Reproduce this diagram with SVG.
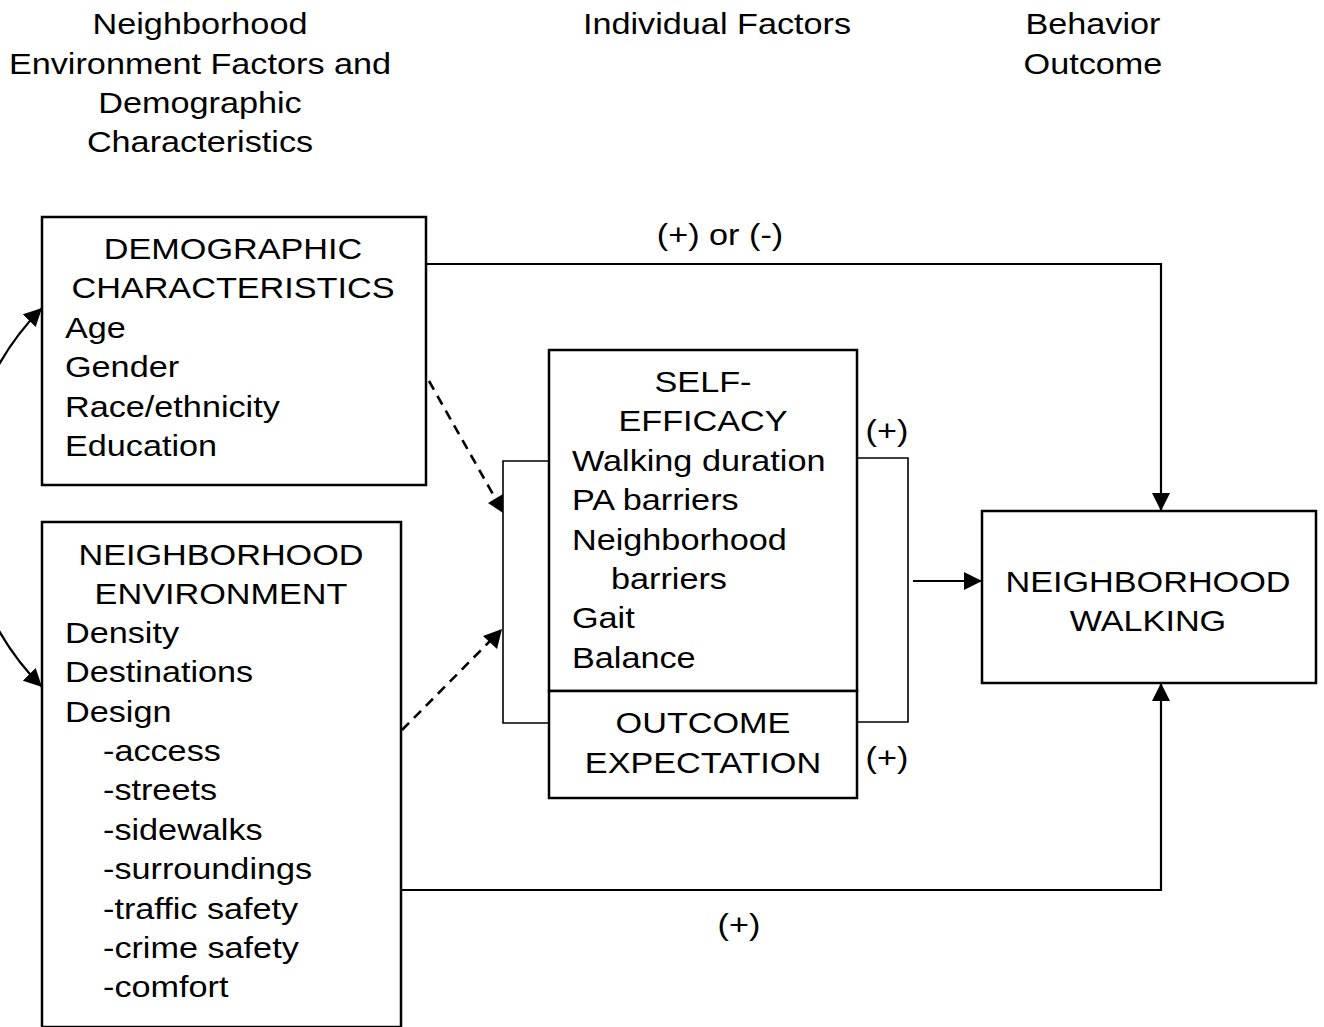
<svg xmlns="http://www.w3.org/2000/svg" width="1324" height="1027" viewBox="0 0 1324 1027">
<style>
text{font-family:"Liberation Sans",Arial,sans-serif;font-size:29px;fill:#000;transform-box:fill-box;transform-origin:left center;transform:scaleX(1.18)}
text.c{text-anchor:middle;transform-origin:center center}
.box{fill:#fff;stroke:#000;stroke-width:2.5}
.ln{fill:none;stroke:#000;stroke-width:2.2}
.thin{fill:none;stroke:#000;stroke-width:1.6}
.dash{fill:none;stroke:#000;stroke-width:2.6;stroke-dasharray:10 7}
</style>
<defs>
<marker id="ah2" viewBox="0 0 10 10" refX="10" refY="5" markerWidth="18" markerHeight="18" markerUnits="userSpaceOnUse" orient="auto-start-reverse">
<path d="M0,0 L10,5 L0,10 z" fill="#000"/>
</marker>
</defs>
<g id="headers">
<text class="c" x="200" y="34">Neighborhood</text>
<text class="c" x="200" y="74">Environment Factors and</text>
<text class="c" x="200" y="113">Demographic</text>
<text class="c" x="200" y="152">Characteristics</text>
<text class="c" x="717" y="34">Individual Factors</text>
<text class="c" x="1093" y="34">Behavior</text>
<text class="c" x="1093" y="74">Outcome</text>
</g>
<g id="connectors">
<path class="ln" d="M42,308 A268,268 0 0 0 42,687" marker-start="url(#ah2)" marker-end="url(#ah2)"/>
<polyline class="ln" points="426,264 1161,264 1161,511" marker-end="url(#ah2)"/>
<polyline class="ln" points="401,890 1161,890 1161,683" marker-end="url(#ah2)"/>
<line class="ln" x1="913" y1="581" x2="982" y2="581" marker-end="url(#ah2)"/>
<polyline class="thin" points="555,461 503,461 503,723 555,723"/>
<polyline class="thin" points="857,458 908,458 908,722 857,722"/>
<line class="dash" x1="429" y1="381" x2="494" y2="496"/>
<polygon points="488,503 503,494 503,513" fill="#000"/>
<line class="dash" x1="402" y1="730" x2="492" y2="639"/>
<polygon points="502,629 497,649 483,636" fill="#000"/>
<text class="c" x="720" y="245">(+) or (-)</text>
<text class="c" x="739" y="935">(+)</text>
<text class="c" x="887" y="441">(+)</text>
<text class="c" x="887" y="768">(+)</text>
</g>
<g id="demographic">
<rect class="box" x="42" y="217" width="384" height="268"/>
<text class="c" x="233" y="259">DEMOGRAPHIC</text>
<text class="c" x="233" y="298">CHARACTERISTICS</text>
<text x="65" y="338">Age</text>
<text x="65" y="377">Gender</text>
<text x="65" y="417">Race/ethnicity</text>
<text x="65" y="456">Education</text>
</g>
<g id="environment">
<rect class="box" x="42" y="522" width="359" height="505"/>
<text class="c" x="221" y="565">NEIGHBORHOOD</text>
<text class="c" x="221" y="604">ENVIRONMENT</text>
<text x="65" y="643">Density</text>
<text x="65" y="682">Destinations</text>
<text x="65" y="722">Design</text>
<text x="103" y="761">-access</text>
<text x="103" y="800">-streets</text>
<text x="103" y="840">-sidewalks</text>
<text x="103" y="879">-surroundings</text>
<text x="103" y="919">-traffic safety</text>
<text x="103" y="958">-crime safety</text>
<text x="103" y="997">-comfort</text>
</g>
<g id="selfefficacy">
<rect class="box" x="549" y="350" width="308" height="341"/>
<text class="c" x="703" y="392">SELF-</text>
<text class="c" x="703" y="431">EFFICACY</text>
<text x="572" y="471">Walking duration</text>
<text x="572" y="510">PA barriers</text>
<text x="572" y="550">Neighborhood</text>
<text x="611" y="589">barriers</text>
<text x="572" y="628">Gait</text>
<text x="572" y="668">Balance</text>
</g>
<g id="outcome">
<rect class="box" x="549" y="691" width="308" height="107"/>
<text class="c" x="703" y="733">OUTCOME</text>
<text class="c" x="703" y="773">EXPECTATION</text>
</g>
<g id="walking">
<rect class="box" x="982" y="511" width="334" height="172"/>
<text class="c" x="1148" y="592">NEIGHBORHOOD</text>
<text class="c" x="1148" y="631">WALKING</text>
</g>
</svg>
